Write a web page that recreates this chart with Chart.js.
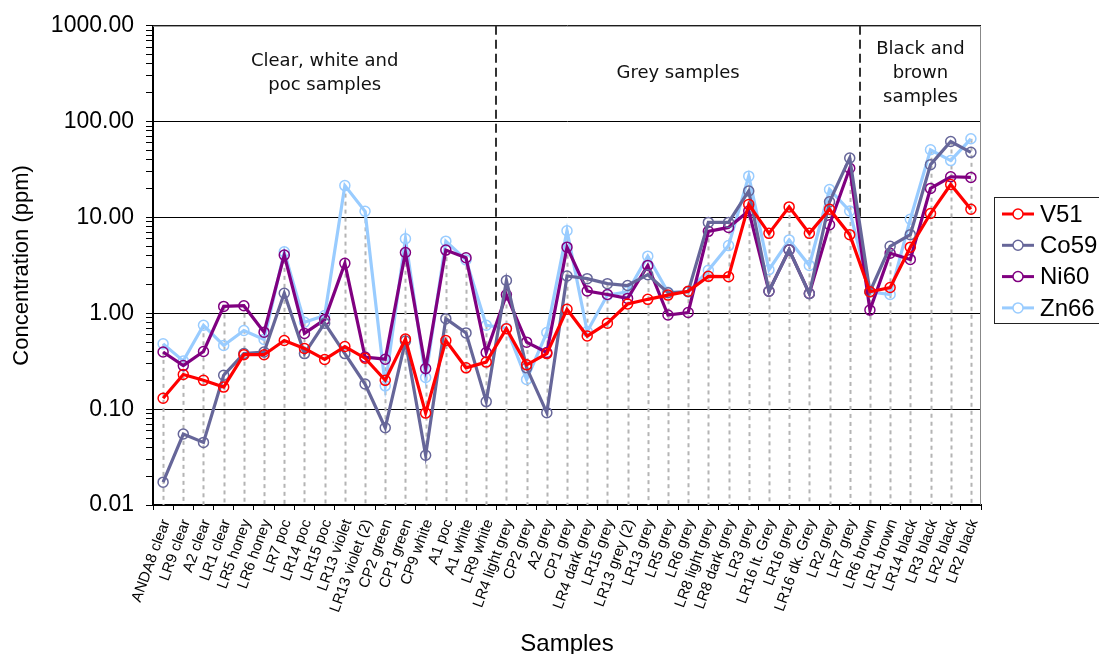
<!DOCTYPE html>
<html>
<head>
<meta charset="utf-8">
<script src="https://cdn.jsdelivr.net/npm/chart.js@4"></script>
<style>
  html, body { margin: 0; padding: 0; background: #fff; }
  canvas { display: block; }
</style>
</head>
<body>
<canvas id="concChart" width="1099" height="654"></canvas>
<script>
// サンプル名
let samples = [
    'ANDA8 clear', 'LR9 clear', 'A2 clear', 'LR1 clear', 'LR5 honey', 'LR6 honey',
    'LR7 poc', 'LR14 poc', 'LR15 poc', 'LR13 violet', 'LR13 violet (2)', 'CP2 green',
    'CP1 green', 'CP9 white', 'A1 poc', 'A1 white', 'LR9 white', 'LR4 light grey',
    'CP2 grey', 'A2 grey', 'CP1 grey', 'LR4 dark grey', 'LR15 grey', 'LR13 grey (2)',
    'LR13 grey', 'LR5 grey', 'LR6 grey', 'LR8 light grey', 'LR8 dark grey', 'LR3 grey',
    'LR16 lt. Grey', 'LR16 grey', 'LR16 dk. Grey', 'LR2 grey', 'LR7 grey', 'LR6 brown',
    'LR1 brown', 'LR14 black', 'LR3 black', 'LR2 black', 'LR2 black'
];

// 濃度 (ppm)
let v51 = [0.13, 0.23, 0.20, 0.17, 0.37, 0.37, 0.52, 0.43, 0.33, 0.45, 0.34, 0.20, 0.54, 0.091, 0.52, 0.27, 0.31,
    0.69, 0.29, 0.38, 1.10, 0.58, 0.79, 1.25, 1.40, 1.55, 1.70, 2.43, 2.41, 13.7, 6.83, 12.9, 6.83, 12.2, 6.62,
    1.68, 1.86, 4.9, 11.0, 22.1, 12.2];
let co59 = [0.0173, 0.055, 0.045, 0.226, 0.38, 0.395, 1.62, 0.38, 0.79, 0.38, 0.183, 0.064, 0.513, 0.033, 0.88, 0.625, 0.12,
    2.2, 0.27, 0.092, 2.45, 2.3, 2.04, 1.95, 2.53, 1.64, 1.68, 8.88, 8.88, 18.9, 1.7, 4.6, 1.6, 14.6, 41.8,
    1.68, 5.0, 6.62, 35.6, 62.1, 47.8];
let ni60 = [0.395, 0.285, 0.40, 1.18, 1.2, 0.636, 4.05, 0.617, 0.86, 3.32, 0.35, 0.332, 4.31, 0.265, 4.57, 3.8, 0.389,
    1.56, 0.50, 0.39, 4.9, 1.71, 1.57, 1.43, 3.16, 0.96, 1.02, 7.17, 7.88, 11.7, 1.7, 4.59, 1.61, 8.4, 32.6,
    1.08, 4.24, 3.65, 20.1, 26.6, 26.2];
let zn66 = [0.48, 0.319, 0.75, 0.462, 0.662, 0.534, 4.38, 0.807, 0.95, 21.5, 11.6, 0.175, 6.0, 0.214, 5.66, 3.6, 0.75,
    0.70, 0.204, 0.63, 7.28, 0.646, 1.55, 1.68, 3.95, 1.66, 1.68, 2.81, 5.09, 27.0, 2.85, 5.83, 3.16, 19.6, 11.7,
    1.68, 1.57, 9.6, 50.9, 39.2, 66.2];

// 目盛り
let majorTicks = [0.01, 0.1, 1, 10, 100, 1000];

// グループ（最初と最後のサンプル番号）
let groupNames = [['Clear, white and', 'poc samples'], ['Grey samples'], ['Black and', 'brown', 'samples']];
let groupFirst = [0, 17, 35];
let groupLast = [16, 34, 40];
let dividerBottom = [1.3, 9];   // 区切り線の下端 (ppm)

let seriesNames = ['V51', 'Co59', 'Ni60', 'Zn66'];
let seriesColors = ['#ff0000', '#666699', '#800080', '#99ccff'];
let seriesData = [v51, co59, ni60, zn66];

const FONT = '"Liberation Sans", Arial, sans-serif';

// 縦の点線（各サンプルの最大値から軸まで）と区切り線・グループ名
const backdropPlugin = {
    id: 'backdrop',
    beforeDatasetsDraw(chart) {
        const { ctx, chartArea, scales: { x, y } } = chart;
        const step = x.getPixelForValue(1) - x.getPixelForValue(0);
        ctx.save();
        ctx.strokeStyle = '#b4b4b4';
        ctx.lineWidth = 2;
        ctx.setLineDash([4, 4]);
        samples.forEach((s, i) => {
            const top = Math.max(...seriesData.map(d => d[i]));
            const px = Math.round(x.getPixelForValue(i)) + 0.5;
            ctx.beginPath();
            ctx.moveTo(px, y.getPixelForValue(top));
            ctx.lineTo(px, chartArea.bottom);
            ctx.stroke();
        });

        // 上と右の枠
        ctx.setLineDash([]);
        ctx.strokeStyle = '#888';
        ctx.lineWidth = 1;
        ctx.beginPath();
        ctx.moveTo(chartArea.left, chartArea.top + 0.5);
        ctx.lineTo(chartArea.right - 0.5, chartArea.top + 0.5);
        ctx.lineTo(chartArea.right - 0.5, chartArea.bottom);
        ctx.stroke();

        // 区切り線
        ctx.strokeStyle = '#333';
        ctx.lineWidth = 2;
        ctx.setLineDash([9, 5]);
        for (let g = 0; g < groupFirst.length - 1; g++) {
            const px = Math.round(x.getPixelForValue(groupLast[g]) + step / 2);
            ctx.beginPath();
            ctx.moveTo(px, chartArea.top);
            ctx.lineTo(px, y.getPixelForValue(dividerBottom[g]));
            ctx.stroke();
        }

        // グループ名
        ctx.setLineDash([]);
        ctx.fillStyle = '#111';
        ctx.font = '18px "DejaVu Sans", Verdana, sans-serif';
        ctx.textAlign = 'center';
        ctx.textBaseline = 'middle';
        const bandMid = (chartArea.top + y.getPixelForValue(100)) / 2;
        groupNames.forEach((lines, g) => {
            const left = x.getPixelForValue(groupFirst[g]) - step / 2;
            const right = x.getPixelForValue(groupLast[g]) + step / 2;
            const cx = (left + right) / 2;
            lines.forEach((t, k) => {
                ctx.fillText(t, cx, bandMid + (k - (lines.length - 1) / 2) * 24);
            });
        });
        ctx.restore();
    }
};

// 枠付きの凡例
const legendPlugin = {
    id: 'boxLegend',
    afterDraw(chart) {
        const ctx = chart.ctx;
        ctx.save();
        ctx.strokeStyle = '#222';
        ctx.lineWidth = 1;
        ctx.strokeRect(994.5, 197.5, 130, 126);
        chart.data.datasets.forEach((ds, i) => {
            const cy = 214 + i * 31.3;
            ctx.strokeStyle = ds.borderColor;
            ctx.lineWidth = 3;
            ctx.beginPath();
            ctx.moveTo(1002, cy);
            ctx.lineTo(1034, cy);
            ctx.stroke();
            ctx.lineWidth = 1.5;
            ctx.fillStyle = '#fff';
            ctx.beginPath();
            ctx.arc(1018, cy, 5, 0, Math.PI * 2);
            ctx.fill();
            ctx.stroke();
            ctx.fillStyle = '#000';
            ctx.font = '24px ' + FONT;
            ctx.textAlign = 'left';
            ctx.textBaseline = 'middle';
            ctx.fillText(ds.label, 1040, cy + 1);
        });
        ctx.restore();
    }
};

let ctx = document.getElementById('concChart').getContext('2d');

let concChart = new Chart(ctx, {
    type: 'line',
    data: {
        labels: samples,
        datasets: seriesNames.map((name, i) => ({
            label: name,
            data: seriesData[i],
            borderColor: seriesColors[i],
            backgroundColor: 'transparent',
            borderWidth: 3.2,
            pointRadius: 5,
            pointBorderWidth: 1.5,
            pointBackgroundColor: 'transparent',
            pointBorderColor: seriesColors[i],
            tension: 0
        }))
    },
    options: {
        responsive: false,
        animation: false,
        layout: { padding: { top: 22, right: 118, left: 0, bottom: 0 } },
        plugins: {
            legend: { display: false },
            tooltip: { enabled: false }
        },
        scales: {
            x: {
                type: 'category',
                offset: true,
                grid: { offset: true, drawOnChartArea: false, drawTicks: true, tickLength: 5, tickColor: '#000' },
                border: { color: '#000', width: 2 },
                ticks: {
                    autoSkip: false,
                    minRotation: 70,
                    maxRotation: 70,
                    padding: 7,
                    labelOffset: 3,
                    color: '#000',
                    font: { family: FONT, size: 15 }
                },
                title: {
                    display: true,
                    text: 'Samples',
                    color: '#000',
                    font: { family: FONT, size: 24, lineHeight: 1 },
                    padding: { top: 0, bottom: -2 }
                },
                afterFit: s => { s.height = 149; }
            },
            y: {
                type: 'logarithmic',
                min: 0.01,
                max: 1000,
                afterBuildTicks: s => {
                    let t = [];
                    majorTicks.forEach((m, k) => {
                        if (k === majorTicks.length - 1) { t.push({ value: m }); return; }
                        for (let j = 1; j < 10; j++) t.push({ value: Number((j * m).toPrecision(3)) });
                    });
                    s.ticks = t;
                },
                grid: {
                    color: c => majorTicks.includes(c.tick.value) ? '#000' : 'transparent',
                    tickColor: '#000',
                    tickLength: 7,
                    drawTicks: true
                },
                border: { color: '#000', width: 2 },
                ticks: {
                    autoSkip: false,
                    padding: 12,
                    color: '#000',
                    font: { family: FONT, size: 23 },
                    callback: v => majorTicks.includes(v) ? v.toFixed(2) : ''
                },
                title: {
                    display: true,
                    text: 'Concentration (ppm)',
                    color: '#000',
                    font: { family: FONT, size: 22, lineHeight: 1 },
                    padding: { top: 11, bottom: 0 }
                },
                afterFit: s => { s.width = 153; }
            }
        }
    },
    plugins: [backdropPlugin, legendPlugin]
});
</script>
</body>
</html>
